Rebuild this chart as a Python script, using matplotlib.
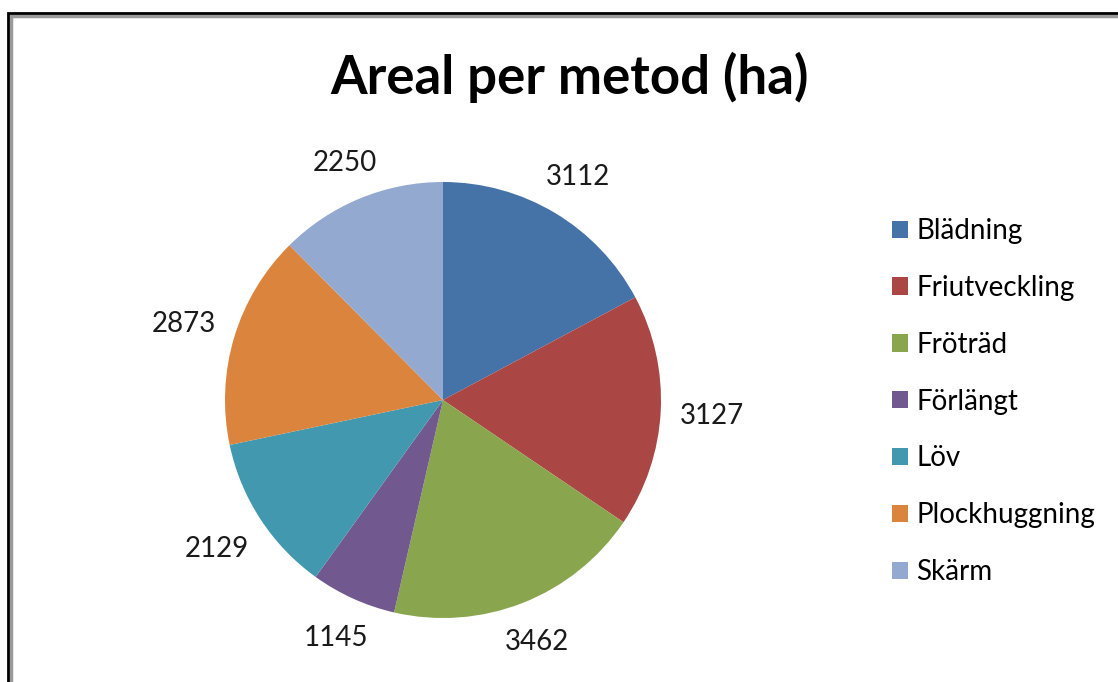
import numpy as np
import matplotlib.pyplot as plt
from matplotlib.patches import Rectangle

# data
metoder = ["Blädning", "Friutveckling", "Fröträd", "Förlängt", "Löv", "Plockhuggning", "Skärm"]
areal = [3112, 3127, 3462, 1145, 2129, 2873, 2250]
farger = ["#4572A7", "#AA4643", "#89A54E", "#71588F", "#4198AF", "#DB843D", "#93A9CF"]

plt.rcParams['font.family'] = ['Lato', 'DejaVu Sans']

W, H = 1118, 682
fig = plt.figure(figsize=(W / 100, H / 100), dpi=100)
fig.patch.set_facecolor("white")

# ram runt diagrammet (går utanför bilden till höger/nederst)
fig.patches.append(Rectangle((10.5 / W, -0.1), 1.2, 1 - 15.5 / H + 0.1, transform=fig.transFigure,
                             fill=False, edgecolor="#9a9a9a", linewidth=2.5))
fig.patches.append(Rectangle((8 / W, -0.1), 1.2, 1 - 13 / H + 0.1, transform=fig.transFigure,
                             fill=False, edgecolor="black", linewidth=2))

cx, cy, r = 443, 400, 218
ax = fig.add_axes([(cx - r) / W, (H - cy - r) / H, 2 * r / W, 2 * r / H])
wedges, _ = ax.pie(areal, colors=farger, startangle=90, counterclock=False)
ax.set_xlim(-1, 1)
ax.set_ylim(-1, 1)
ax.set_aspect("equal")

# etiketter utanför tårtan, med ett jämnt avstånd från kanten (som Excel)
renderer = fig.canvas.get_renderer()
fs = 20
digit_h = 0.72 * fs * 100 / 72 / r   # höjd på siffrorna i axelenheter
gap = 19 / r
for w, v in zip(wedges, areal):
    ang = np.deg2rad((w.theta1 + w.theta2) / 2)
    t = ax.text(0, 0, str(v), ha="center", va="baseline", fontsize=fs, color="#1a1a1a")
    hw = t.get_window_extent(renderer).width / 2 / r
    d = 1 + gap + abs(np.cos(ang)) * hw + abs(np.sin(ang)) * digit_h / 2
    t.set_position((d * np.cos(ang), d * np.sin(ang) - digit_h / 2))

fig.text(570 / W, 1 - 77 / H, "Areal per metod (ha)", ha="center", va="center",
         fontsize=38, fontweight="bold")

fig.legend(wedges, metoder, loc="upper left", bbox_to_anchor=(881 / W, 1 - 207 / H),
           frameon=False, fontsize=20, handlelength=0.58, handleheight=0.58,
           handletextpad=0.3, labelspacing=1.11, borderaxespad=0)

fig.savefig("out.png", dpi=100, facecolor="white")
